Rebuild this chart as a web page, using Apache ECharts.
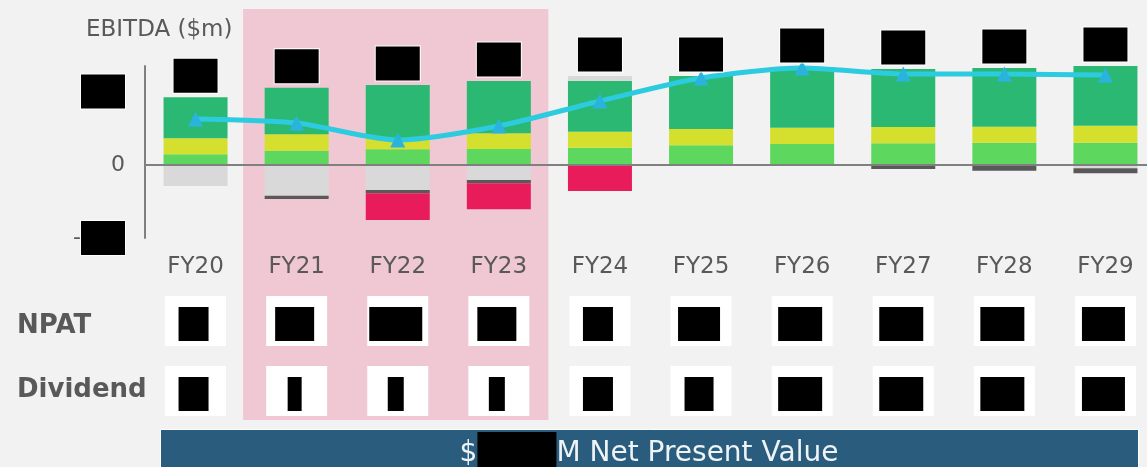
<!DOCTYPE html>
<html>
<head>
<meta charset="utf-8">
<script src="https://cdn.jsdelivr.net/npm/echarts@6/dist/echarts.min.js"></script>
<style>
  html, body { margin: 0; padding: 0; background: #f2f2f2; overflow: hidden; }
  #chart { width: 1160px; height: 467px; }
</style>
</head>
<body>
<div id="chart"></div>
<script>
// categories
const years = ['FY20', 'FY21', 'FY22', 'FY23', 'FY24', 'FY25', 'FY26', 'FY27', 'FY28', 'FY29']
const rows = ['NPAT', 'Dividend']

// EBITDA stack above zero (bottom -> top)
const ebitdaBase = [14.3, 19.3, 21.2, 21.6, 23.4, 26.6, 28.4, 29.4, 30.2, 30.2]
const ebitdaMid = [21.9, 22.4, 15.0, 21.4, 21.9, 22.3, 22.3, 22.3, 21.9, 23.2]
const ebitdaCore = [56.0, 63.7, 72.8, 71.4, 69.3, 72.4, 82.9, 79.2, 80.2, 81.6]
const ebitdaOther = [0, 0, 0, 0, 6.8, 0, 0, 0, 0, 0]

// below zero (top -> bottom)
const costGray = [-29.0, -42.2, -34.4, -20.8, 0, 0, 0, 0, -1.4, -4.8]
const costDark = [0, -4.5, -4.5, -4.5, 0, 0, 0, -5.7, -6.8, -6.8]
const costRed = [0, 0, -36.5, -35.5, -35.8, 0, 0, 0, 0, 0]

// line
const ebitdaLine = [62.6, 57.1, 33.9, 53.0, 87.2, 118.6, 132.2, 124.0, 124.0, 122.7]

// y axis ticks
const yMin = -100
const yMax = 135
const yStep = 100

// shaded period
const shadeFrom = 'FY21'
const shadeTo = 'FY23'

// ---- style only (redacted boxes) ----
const npatBoxW = [30, 39, 53, 39, 30, 42, 44, 44, 44, 43]
const divBoxW = [30, 14, 16, 16, 30, 29, 44, 44, 44, 43]

const FONT = 'DejaVu Sans'
const GREY_TXT = '#595959'
const redact = { width: 44, height: 34, backgroundColor: '#000', borderColor: '#fff', borderWidth: 1 }

const totals = years.map((_, i) => ebitdaBase[i] + ebitdaMid[i] + ebitdaCore[i] + ebitdaOther[i])

const chart = echarts.init(document.getElementById('chart'))

// same band layout for every grid (last band runs past the window edge)
const gridX = { left: 145, width: 1011 }

const barBase = {
  type: 'bar',
  stack: 'ebitda',
  barWidth: 64,
  xAxisIndex: 0,
  yAxisIndex: 0,
  silent: true
}

chart.setOption({
  backgroundColor: '#f2f2f2',
  animation: false,
  title: {
    text: 'EBITDA ($m)',
    left: 81,
    top: 14,
    textStyle: { fontFamily: FONT, fontSize: 23, fontWeight: 'normal', color: GREY_TXT }
  },
  grid: [
    { ...gridX, top: 66, bottom: 229 },
    { ...gridX, top: 9, bottom: 47 },
    { ...gridX, top: 286, bottom: 41 }
  ],
  xAxis: [
    {
      gridIndex: 0,
      type: 'category',
      data: years,
      z: 3,
      axisLine: { show: false, onZero: false },
      axisTick: { show: false },
      axisLabel: { fontFamily: FONT, fontSize: 23, color: GREY_TXT, margin: 18 }
    },
    { gridIndex: 1, type: 'value', min: -0.5, max: years.length - 0.5, show: false },
    { gridIndex: 2, type: 'category', data: years, show: false }
  ],
  yAxis: [
    {
      gridIndex: 0,
      type: 'value',
      min: yMin,
      max: yMax,
      interval: yStep,
      axisLine: { show: true, lineStyle: { color: '#808080', width: 2 } },
      axisTick: { show: false },
      splitLine: { show: false },
      axisLabel: {
        showMaxLabel: false,
        fontFamily: FONT,
        fontSize: 22,
        color: GREY_TXT,
        margin: 20,
        formatter: v => (v === 0 ? '0' : v < 0 ? '-{box|}' : '{box|}'),
        rich: { box: redact }
      }
    },
    { gridIndex: 1, type: 'value', min: 0, max: 1, show: false },
    {
      gridIndex: 2,
      type: 'category',
      data: rows,
      inverse: true,
      z: 3,
      axisLine: { show: false },
      axisTick: { show: false },
      axisLabel: {
        align: 'left',
        margin: 128,
        formatter: v => (v === 'NPAT' ? '{n|' + v + '}' : '{d|' + v + '}'),
        rich: {
          n: { fontFamily: FONT, fontSize: 26, fontWeight: 'bold', color: GREY_TXT, padding: [10, 0, 0, 0] },
          d: { fontFamily: FONT, fontSize: 26, fontWeight: 'bold', color: GREY_TXT, padding: [0, 0, 2, 0] }
        }
      }
    }
  ],
  series: [
    // shaded period behind everything
    {
      type: 'line',
      xAxisIndex: 1,
      yAxisIndex: 1,
      data: [],
      silent: true,
      z: -1,
      markArea: {
        silent: true,
        z: -1,
        itemStyle: { color: '#f0c8d4', opacity: 1 },
        data: [[
          { xAxis: years.indexOf(shadeFrom) - 0.53 },
          { xAxis: years.indexOf(shadeTo) + 0.49 }
        ]]
      }
    },
    { ...barBase, name: 'base', data: ebitdaBase, itemStyle: { color: '#5dd75d' } },
    { ...barBase, name: 'mid', data: ebitdaMid, itemStyle: { color: '#d5df2e' } },
    { ...barBase, name: 'core', data: ebitdaCore, itemStyle: { color: '#2bb873' } },
    { ...barBase, name: 'other', data: ebitdaOther, itemStyle: { color: '#d9d9d9' } },
    { ...barBase, name: 'gray', data: costGray, itemStyle: { color: '#d9d9d9' } },
    { ...barBase, name: 'dark', data: costDark, itemStyle: { color: '#595959' } },
    {
      ...barBase,
      name: 'red',
      data: costRed,
      itemStyle: { color: '#e81c5b' },
      markLine: {
        silent: true,
        symbol: 'none',
        label: { show: false },
        lineStyle: { color: '#808080', width: 2, type: 'solid' },
        data: [{ yAxis: 0 }]
      }
    },
    {
      type: 'line',
      name: 'EBITDA',
      xAxisIndex: 0,
      yAxisIndex: 0,
      data: ebitdaLine,
      smooth: 0.25,
      symbol: 'triangle',
      symbolSize: 15,
      itemStyle: { color: '#2ab4dd' },
      lineStyle: { color: '#2ccbe0', width: 5 },
      z: 4
    },
    // redacted totals above bars
    {
      type: 'scatter',
      xAxisIndex: 0,
      yAxisIndex: 0,
      data: totals,
      symbolSize: 1,
      itemStyle: { color: 'rgba(0,0,0,0)', opacity: 1 },
      label: { show: true, position: 'top', distance: 4, formatter: '{box|}', rich: { box: redact } },
      z: 6,
      silent: true
    },
    // table cells
    {
      type: 'scatter',
      xAxisIndex: 2,
      yAxisIndex: 2,
      symbol: 'rect',
      symbolSize: [61, 50],
      itemStyle: { color: '#ffffff', opacity: 1 },
      data: rows.flatMap(r => years.map(y => [y, r])),
      silent: true
    },
    {
      type: 'scatter',
      xAxisIndex: 2,
      yAxisIndex: 2,
      symbol: 'rect',
      symbolOffset: [-2, 3],
      itemStyle: { color: '#000', opacity: 1 },
      data: years.map((y, i) => ({ value: [y, 'NPAT'], symbolSize: [npatBoxW[i], 34] }))
        .concat(years.map((y, i) => ({ value: [y, 'Dividend'], symbolSize: [divBoxW[i], 34] }))),
      z: 3,
      silent: true
    }
  ],
  graphic: [
    {
      type: 'rect',
      left: 160,
      top: 429,
      shape: { width: 978, height: 40 },
      style: { fill: '#2a5d7d', stroke: '#ffffff', lineWidth: 1 }
    },
    {
      type: 'text',
      style: {
        x: 649,
        y: 450,
        align: 'center',
        verticalAlign: 'middle',
        text: '{t|$}{r|}{t|M Net Present Value}',
        rich: {
          t: { fontFamily: FONT, fontSize: 28, fill: '#eef3f6', color: '#eef3f6', padding: [7, 0, 0, 0] },
          r: { width: 79, height: 36, backgroundColor: '#000' }
        }
      }
    }
  ]
})
</script>
</body>
</html>
